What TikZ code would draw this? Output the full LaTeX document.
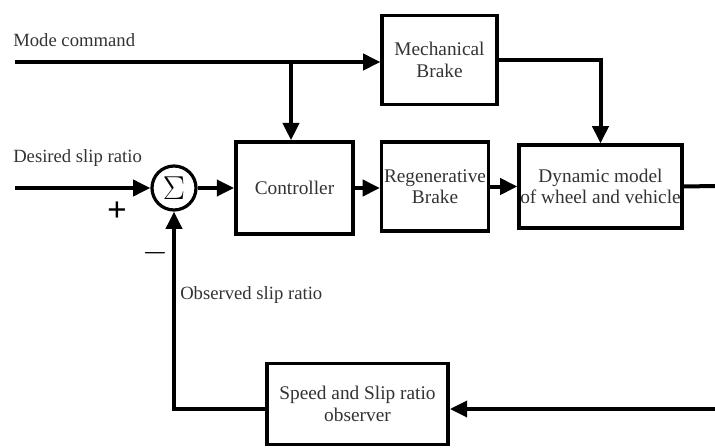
\documentclass[tikz,border=0pt]{standalone}
\usepackage{fontspec}
\setmainfont{Liberation Serif}
\usetikzlibrary{arrows.meta}

\begin{document}
\begin{tikzpicture}[x=0.75pt,y=-0.75pt,
block/.style={draw,line width=2.6pt,align=center,inner sep=0pt,font=\fontsize{14.5}{16}\selectfont,text=black!80},
sumnode/.style={draw,circle,line width=2.4pt,minimum size=33pt,inner sep=0pt,font=\fontsize{24}{24}\selectfont},
sig/.style={line width=3pt,-{Triangle[length=13pt,width=12pt]}},
wire/.style={line width=3pt},
lbl/.style={font=\fontsize{14}{16}\selectfont,text=black!80,inner sep=0pt},
]
\useasboundingbox (0,0) rectangle (715,447);
% blocks
\node[block,minimum width=86pt,minimum height=67pt] (mech) at (439.5,60) {Mechanical\\Brake};
\node[block,minimum width=88pt,minimum height=69pt] (ctrl) at (294.5,188) {Controller};
\node[block,minimum width=80pt,minimum height=67pt] (regen) at (435,186.5) {Regenerative\\Brake};
\node[block,minimum width=122pt,minimum height=62pt] (dyn) at (600.5,186.5) {Dynamic model\\of wheel and vehicle};
\node[block,minimum width=136pt,minimum height=61pt] (obs) at (357.5,404) {Speed and Slip ratio\\observer};
\node[sumnode] (sum) at (174,188) {$\Sigma$};
% free ends
\coordinate (modein) at (15,62);
\coordinate (branch) at (291,62);
\coordinate (refin) at (15,188);
\coordinate (out) at (715,186);
\coordinate (fbin) at (715,409);
% labels
\node[lbl,anchor=west] (modelbl) at (13,40) {Mode command};
\node[lbl,anchor=west] (reflbl) at (13,158) {Desired slip ratio};
\node[lbl,anchor=west] (obslbl) at (180,295) {Observed slip ratio};
\node[font=\fontsize{26}{26}\selectfont\bfseries] (plus) at (117,212) {+};
\node[font=\fontsize{24}{24}\selectfont\bfseries] (minus) at (155,253) {$-$};
% signals
\draw[sig] (modein) -- (modein -| mech.west);
\draw[sig] (branch) -- (branch |- ctrl.north);
\draw[sig] (mech.east) -| (dyn.north);
\draw[sig] (refin) -- (sum.west);
\draw[sig] (sum.east) -- (ctrl.west);
\draw[sig] (ctrl.east) -- (ctrl.east -| regen.west);
\draw[sig] (regen.east) -- (regen.east -| dyn.west);
\draw[wire] (dyn.east) -- (out);
\draw[sig] (fbin) -- (fbin -| obs.east);
\draw[sig] (obs.west |- fbin) -| (sum.south);
\end{tikzpicture}
\end{document}
